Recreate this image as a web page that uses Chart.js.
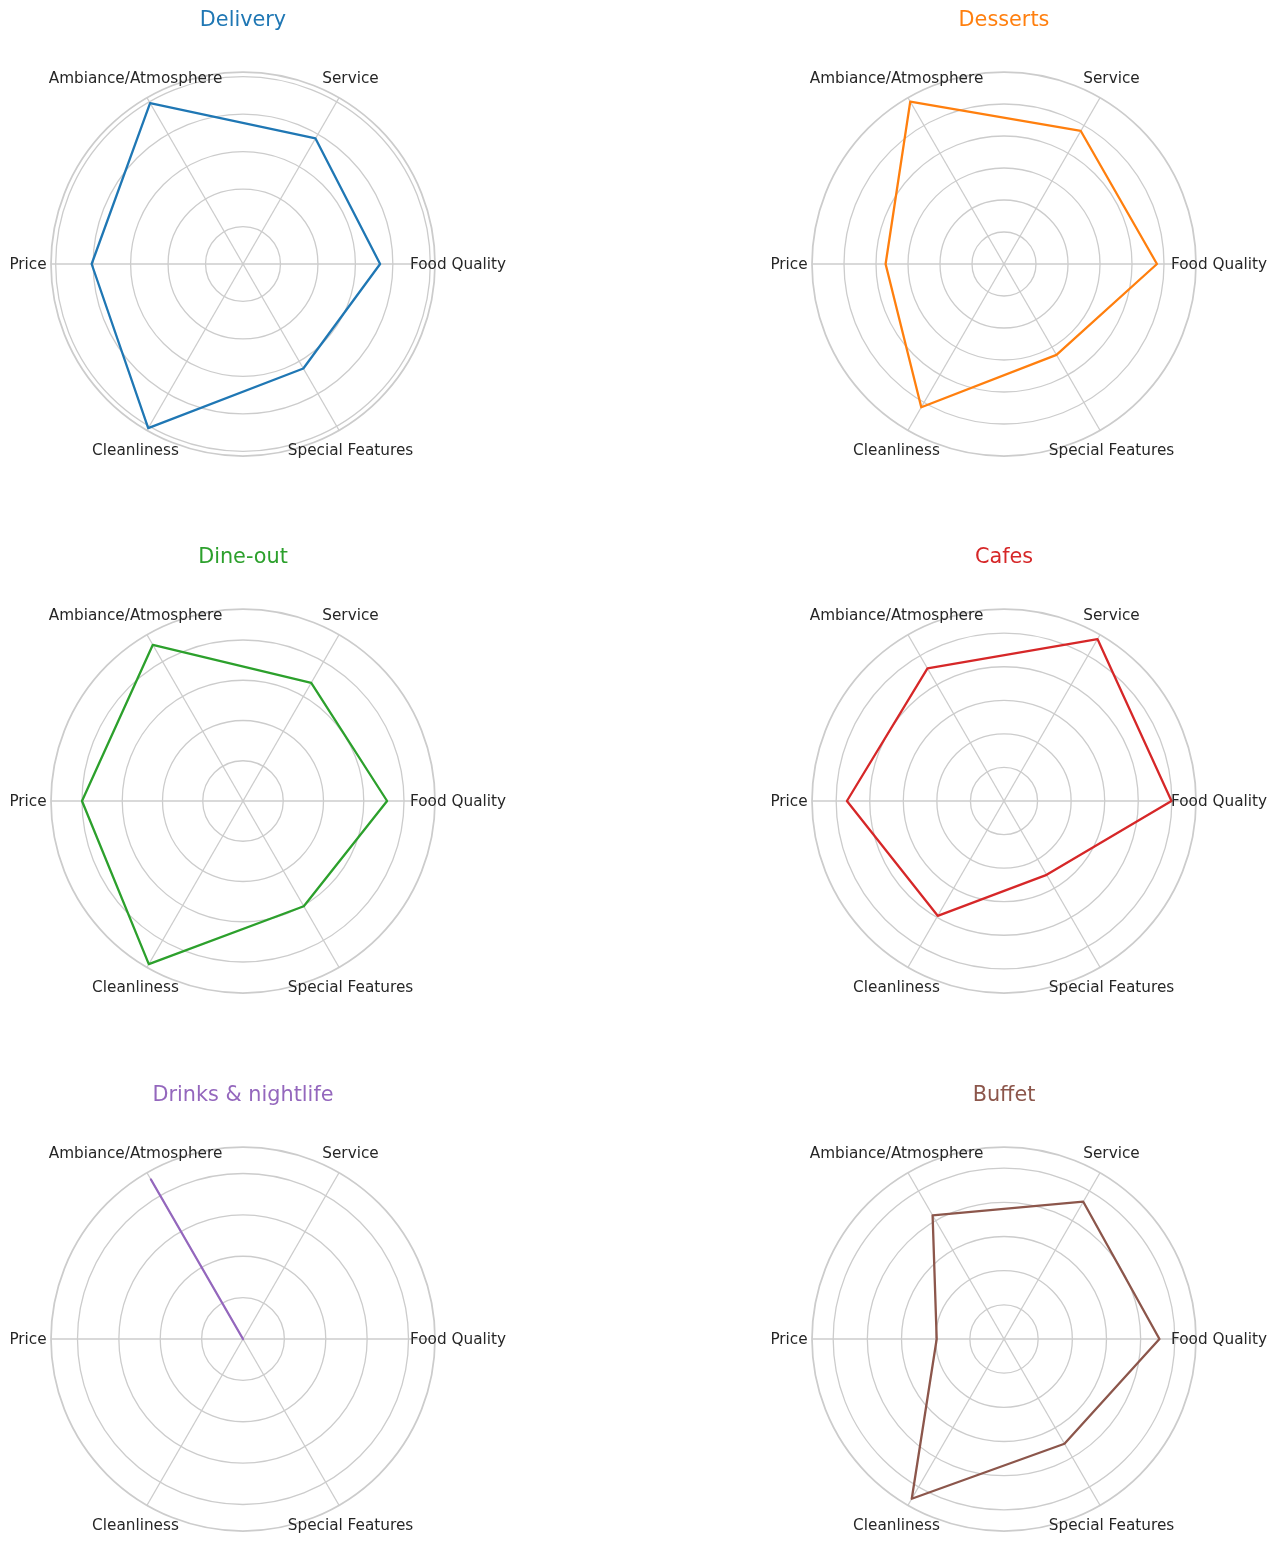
<!DOCTYPE html>
<html>
<head>
<meta charset="utf-8">
<script src="https://cdn.jsdelivr.net/npm/chart.js@4.4.1/dist/chart.umd.min.js"></script>
<style>
    html, body { margin: 0; padding: 0; background: #ffffff; overflow: hidden; }
    body { width: 1277px; height: 1542px; position: relative; }
    canvas { position: absolute; }
</style>
</head>
<body>
<canvas id="c0" width="560" height="540"></canvas>
<canvas id="c1" width="560" height="540"></canvas>
<canvas id="c2" width="560" height="540"></canvas>
<canvas id="c3" width="560" height="540"></canvas>
<canvas id="c4" width="560" height="540"></canvas>
<canvas id="c5" width="560" height="540"></canvas>
<script>
// categories, counter-clockwise from the right as in the picture
const categories = ['Food Quality', 'Service', 'Ambiance/Atmosphere', 'Price', 'Cleanliness', 'Special Features']
const titles = ['Delivery', 'Desserts', 'Dine-out', 'Cafes', 'Drinks & nightlife', 'Buffet']

const delivery = [3.66, 3.87, 4.96, 4.04, 5.06, 3.22]
const desserts = [4.78, 4.80, 5.86, 3.70, 5.17, 3.28]
const dineOut  = [3.58, 3.39, 4.48, 4.00, 4.68, 3.02]
const cafes    = [4.99, 5.57, 4.56, 4.68, 3.95, 2.54]
const drinks   = [0, 0, 4.45, 0, 0, 0]
const buffet   = [4.55, 4.64, 4.18, 1.97, 5.40, 3.54]

// outer edge of each radial axis
const radialMax = [5.125, 6, 4.77, 5.72, 4.64, 5.62]

const COLORS = ['#1f77b4', '#ff7f0e', '#2ca02c', '#d62728', '#9467bd', '#8c564b']
const seriesList = [delivery, desserts, dineOut, cafes, drinks, buffet]

// chart.js goes clockwise, so reorder to keep Food Quality right and Service upper right
const drawOrder = [0, 5, 4, 3, 2, 1]

const centers = [[243, 264], [1004, 264], [243, 801], [1004, 801], [243, 1339], [1004, 1339]]

const centeredLabels = {
    id: 'centeredLabels',
    afterDraw (chart) {
        const scale = chart.scales.r
        const ctx = chart.ctx
        ctx.save()
        ctx.font = '15.28px "DejaVu Sans"'
        ctx.fillStyle = '#262626'
        ctx.textAlign = 'center'
        ctx.textBaseline = 'middle'
        chart.data.labels.forEach((label, i) => {
            const p = scale.getPointPosition(i, scale.drawingArea + 23)
            ctx.fillText(label, p.x, p.y + 1)
        })
        ctx.restore()
    }
}

for (let k = 0; k < 6; ++k) {
    const canvas = document.getElementById('c' + k)
    canvas.style.left = (centers[k][0] - 280) + 'px'
    canvas.style.top = (centers[k][1] - 270) + 'px'

    const max = radialMax[k]
    const values = seriesList[k]

    new Chart(canvas, {
        type: 'radar',
        data: {
            labels: drawOrder.map(i => categories[i]),
            datasets: [{
                label: titles[k],
                data: drawOrder.map(i => values[i]),
                borderColor: COLORS[k],
                backgroundColor: 'rgba(0,0,0,0)',
                borderWidth: 2.3,
                borderJoinStyle: 'round',
                fill: false,
                pointRadius: 0,
                pointHoverRadius: 0
            }]
        },
        options: {
            responsive: false,
            animation: false,
            layout: {
                padding: { top: 0, left: 88, right: 88, bottom: 78 }
            },
            plugins: {
                legend: { display: false },
                tooltip: { enabled: false },
                title: {
                    display: true,
                    text: titles[k],
                    color: COLORS[k],
                    font: { family: 'DejaVu Sans', size: 20.8, weight: 'normal', lineHeight: 1.2 },
                    padding: { top: 14.5, bottom: 38.54 }
                }
            },
            scales: {
                r: {
                    min: 0,
                    max: max,
                    startAngle: 90,
                    afterBuildTicks: (scale) => {
                        const ticks = []
                        for (let v = 0; v < max - 0.01; v += 1) ticks.push({ value: v })
                        ticks.push({ value: max })
                        scale.ticks = ticks
                    },
                    ticks: { display: false },
                    pointLabels: { display: false },
                    grid: {
                        circular: true,
                        color: '#cccccc',
                        lineWidth: (ctx) => ctx.index === ctx.scale.ticks.length - 1 ? 1.75 : 1.3
                    },
                    angleLines: {
                        color: '#cccccc',
                        lineWidth: 1.3
                    }
                }
            }
        },
        plugins: [centeredLabels]
    })
}
</script>
</body>
</html>
